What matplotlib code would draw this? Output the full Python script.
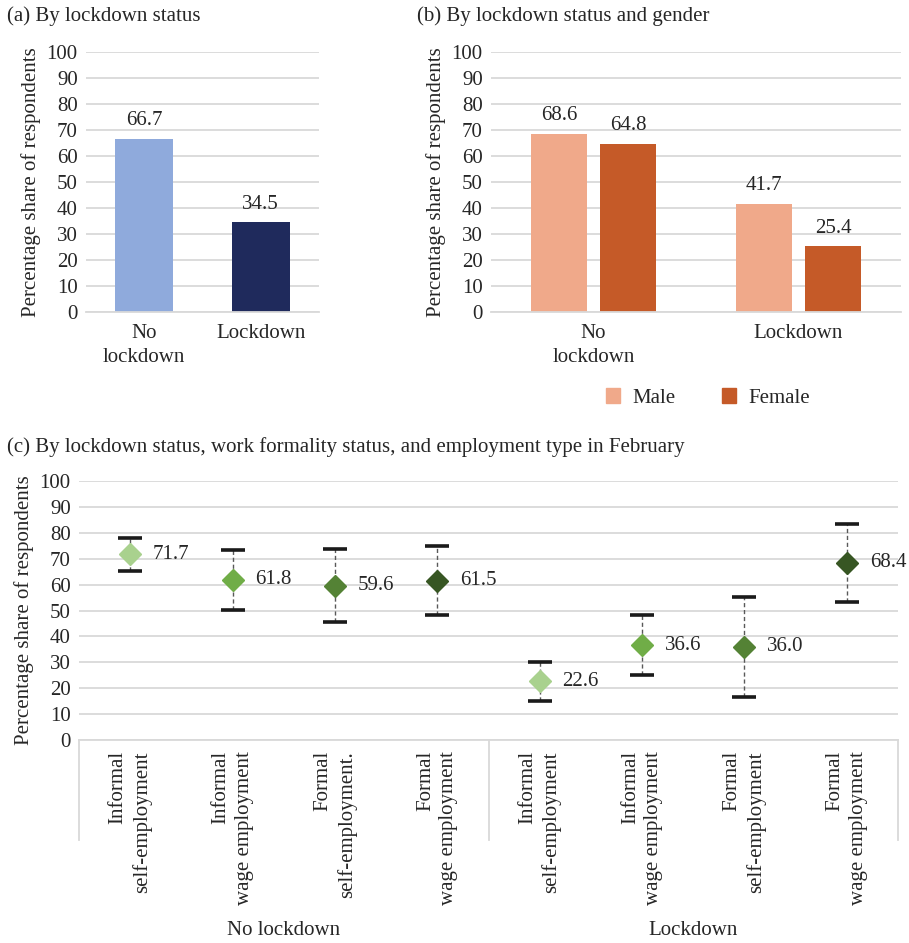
import matplotlib
matplotlib.use("Agg")
import matplotlib.pyplot as plt
import numpy as np
from matplotlib.patches import Patch

plt.rcParams["font.family"] = ["Liberation Serif", "DejaVu Serif"]
plt.rcParams["font.size"] = 15
plt.rcParams["text.color"] = "#262626"
plt.rcParams["axes.labelcolor"] = "#262626"
plt.rcParams["xtick.color"] = "#262626"
plt.rcParams["ytick.color"] = "#262626"

# --- data -------------------------------------------------------------
a_labels = ["No\nlockdown", "Lockdown"]
a_values = [66.7, 34.5]
a_colors = ["#8FAADC", "#1F2A5C"]

b_labels = ["No\nlockdown", "Lockdown"]
b_male = [68.6, 41.7]
b_female = [64.8, 25.4]

c_labels = [
    "Informal\nself-employment",
    "Informal\nwage employment",
    "Formal\nself-employment.",
    "Formal\nwage employment",
    "Informal\nself-employment",
    "Informal\nwage employment",
    "Formal\nself-employment",
    "Formal\nwage employment",
]
c_groups = ["No lockdown", "Lockdown"]
c_values = [71.7, 61.8, 59.6, 61.5, 22.6, 36.6, 36.0, 68.4]
c_lower = [65.2, 50.1, 45.4, 48.1, 15.1, 25.2, 16.7, 53.2]
c_upper = [78.1, 73.5, 73.8, 74.9, 30.0, 48.1, 55.2, 83.5]
c_colors = ["#A9D18E", "#70AD47", "#548235", "#375623",
            "#A9D18E", "#70AD47", "#548235", "#375623"]

GRID = "#D9D9D9"
W, H = 909, 943


def px_axes(fig, x0, y0, x1, y1):
    # pixel box (top-left origin) -> figure fraction
    return fig.add_axes((x0 / W, 1 - y1 / H, (x1 - x0) / W, (y1 - y0) / H))


def style_axes(ax):
    ax.set_ylim(0, 100)
    ax.set_yticks(np.arange(0, 101, 10))
    ax.grid(axis="y", color=GRID, linewidth=1.3)
    ax.set_axisbelow(True)
    for side in ["left", "right", "top"]:
        ax.spines[side].set_visible(False)
    ax.spines["bottom"].set_color(GRID)
    ax.spines["bottom"].set_linewidth(1.3)
    ax.tick_params(axis="both", length=0)
    ax.tick_params(axis="y", pad=6)
    ax.set_ylabel("Percentage share of respondents", labelpad=4)


fig = plt.figure(figsize=(W / 100, H / 100), dpi=100)

# --- (a) --------------------------------------------------------------
ax_a = px_axes(fig, 86, 52, 319, 312)
style_axes(ax_a)
xa = np.arange(len(a_values))
bars = ax_a.bar(xa, a_values, width=0.5, color=a_colors)
ax_a.set_xlim(-0.5, 1.5)
ax_a.set_xticks(xa)
ax_a.set_xticklabels(a_labels, linespacing=1.3)
ax_a.tick_params(axis="x", pad=9)
for x, v in zip(xa, a_values):
    ax_a.annotate(f"{v:.1f}", (x, v), xytext=(0, 6), textcoords="offset points",
                  ha="center", va="bottom")
fig.text(7 / W, 1 - 16 / H, "(a) By lockdown status", ha="left", va="center")

# --- (b) --------------------------------------------------------------
ax_b = px_axes(fig, 491, 52, 901, 312)
style_axes(ax_b)
xb = np.arange(len(b_male))
off = 0.168
ax_b.bar(xb - off, b_male, width=0.27, color="#F0A98A", label="Male")
ax_b.bar(xb + off, b_female, width=0.27, color="#C55A28", label="Female")
ax_b.set_xlim(-0.5, 1.5)
ax_b.set_xticks(xb)
ax_b.set_xticklabels(b_labels, linespacing=1.3)
ax_b.tick_params(axis="x", pad=9)
for x, v in zip(xb - off, b_male):
    ax_b.annotate(f"{v:.1f}", (x, v), xytext=(0, 6), textcoords="offset points",
                  ha="center", va="bottom")
for x, v in zip(xb + off, b_female):
    ax_b.annotate(f"{v:.1f}", (x, v), xytext=(0, 6), textcoords="offset points",
                  ha="center", va="bottom")
fig.text(417 / W, 1 - 16 / H, "(b) By lockdown status and gender", ha="left", va="center")
handles = [Patch(color="#F0A98A", label="Male"), Patch(color="#C55A28", label="Female")]
fig.legend(handles=handles, loc="center", bbox_to_anchor=(708 / W, 1 - 398 / H),
           ncol=2, frameon=False, handlelength=0.7, handleheight=0.7,
           handletextpad=0.6, columnspacing=2.2)

# --- (c) --------------------------------------------------------------
ax_c = px_axes(fig, 79, 481, 898, 740)
style_axes(ax_c)
xc = np.arange(len(c_values))
ax_c.set_xlim(-0.5, len(c_values) - 0.5)
err = [np.array(c_values) - np.array(c_lower), np.array(c_upper) - np.array(c_values)]
_, caps, barcols = ax_c.errorbar(xc, c_values, yerr=err, fmt="none", ecolor="#595959",
                                 elinewidth=1.0, capsize=8.5, capthick=2.6, zorder=3)
barcols[0].set_linestyle((0, (3, 2)))
for cl in caps:
    cl.set_markeredgecolor("#1A1A1A")
for x, v, col in zip(xc, c_values, c_colors):
    ax_c.plot(x, v, marker="D", ms=11, color=col, linestyle="none", zorder=4)
    ax_c.annotate(f"{v:.1f}", (x, v), xytext=(16.5, 0), textcoords="offset points",
                  ha="left", va="center", annotation_clip=False)
ax_c.set_xticks(xc)
ax_c.set_xticklabels(c_labels, rotation=90, va="top", ha="center",
                     multialignment="right", linespacing=1.3)
ax_c.tick_params(axis="x", pad=8)
sep_tr = ax_c.get_xaxis_transform()
for xs in [-0.5, 3.5, 7.5]:
    ax_c.plot([xs, xs], [0, -0.386], color=GRID, linewidth=1.3,
              transform=sep_tr, clip_on=False)
for gi, name in enumerate(c_groups):
    ax_c.text(gi * 4 + 1.5, -0.735, name, transform=sep_tr, ha="center", va="center")
fig.text(7 / W, 1 - 447 / H,
         "(c) By lockdown status, work formality status, and employment type in February",
         ha="left", va="center")

fig.savefig("out.png", dpi=100)
